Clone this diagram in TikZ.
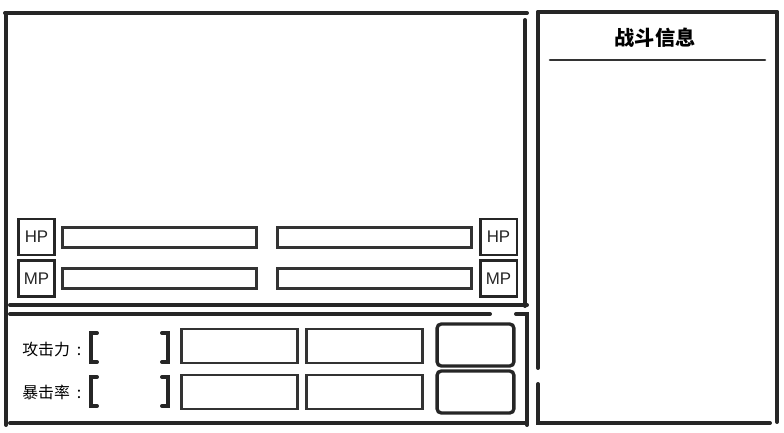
\documentclass[tikz,border=0pt]{standalone}
\usepackage{fontspec}
\setmainfont{Liberation Sans}
\newfontfamily\cjk{Noto Sans CJK SC}
\usetikzlibrary{positioning,calc}

\tikzset{
  pen/.style={line width=2.8pt, black!85, line cap=round},
  thinpen/.style={line width=1.8pt, black!80, line cap=round},
  badge/.style={draw, line width=2pt, black!85, minimum width=0.92cm, minimum height=0.9cm, inner sep=0pt, font=\large},
  gauge/.style={draw, line width=2.2pt, black!80, minimum width=4.87cm, minimum height=0.48cm, inner sep=0pt},
  statbox/.style={draw, line width=2pt, black!80, minimum width=2.9cm, minimum height=0.85cm, inner sep=0pt},
  slot/.style={draw, line width=2.4pt, black!85, rounded corners=3pt, minimum width=1.92cm, minimum height=1.05cm, inner sep=0pt},
  tag/.style={font=\cjk\fontsize{11.3}{13}\selectfont, anchor=west, inner sep=0pt}
}

\begin{document}
\begin{tikzpicture}[x=0.025cm,y=-0.025cm]
\useasboundingbox (0,0) rectangle (784,433);

% Left frame
\draw[pen] (5,13) -- (527,13);
\draw[pen] (6,13) -- (6,425);
\draw[pen] (525,20) -- (525,306);
\draw[pen] (10,305) -- (527,305);
\draw[pen] (10,314) -- (490,314);
\draw[pen] (516,314) -- (527,314) -- (527,425);
\draw[pen] (10,423) -- (527,423);

% Battle info panel
\draw[pen] (538,12) -- (777,12);
\draw[pen] (538,12) -- (538,368);
\draw[pen] (538,384) -- (538,423) -- (770,423);
\draw[pen] (777,12) -- (777,422);
\node[font=\cjk\bfseries\Large] (title) at (655,38) {战斗信息};
\draw[thinpen] (550,60) -- (765,60);

% HP / MP rows
\node[badge] (hpL) at (36.5,237) {HP};
\node[badge] (mpL) at (36.5,278.5) {MP};
\node[badge] (hpR) at (498.5,237) {HP};
\node[badge] (mpR) at (498.5,278.5) {MP};

\node[gauge] (hpbarL) at (159.5,237.5) {};
\node[gauge] (mpbarL) at (159.5,278.5) {};
\node[gauge] (hpbarR) at (374.5,237.5) {};
\node[gauge] (mpbarR) at (374.5,278.5) {};

% Stats
\node[tag] (atk) at (22,349) {攻击力\hspace{5pt}:};
\node[tag] (crit) at (22,392) {暴击率\hspace{5pt}:};

\foreach \y in {333,377}{
  \draw[pen] (97,\y) -- (91,\y) -- (91,\y+29) -- (97,\y+29);
  \draw[pen] (162,\y) -- (168,\y) -- (168,\y+29) -- (162,\y+29);
}

\node[statbox] (atkA) at (239.5,346) {};
\node[statbox] (atkB) at (364.5,346) {};
\node[statbox] (critA) at (239.5,392) {};
\node[statbox] (critB) at (364.5,392) {};

\node[slot] (slotA) at (475.5,345) {};
\node[slot] (slotB) at (475.5,392) {};

\end{tikzpicture}
\end{document}
